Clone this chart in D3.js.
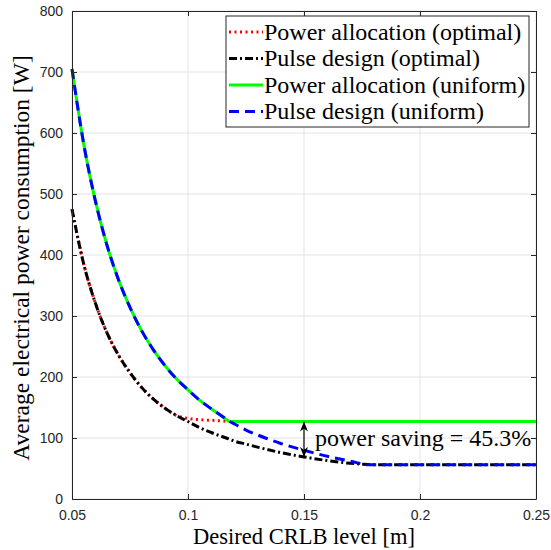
<!DOCTYPE html>
<html>
<head>
<meta charset="utf-8">
<script src="https://cdn.jsdelivr.net/npm/d3@7"></script>
<style>
  body { margin: 0; background: #fff; }
  .tick text { font-family: 'Liberation Sans', Arial, sans-serif; font-size: 14px; fill: #262626; }
</style>
</head>
<body>
<svg id="chart"></svg>
<script>
(function() {

  // desired CRLB level [m]
  const crlb = [0.05, 0.055, 0.06, 0.065, 0.07, 0.075, 0.08, 0.085, 0.09, 0.095,
    0.1, 0.105, 0.11, 0.115, 0.118, 0.12, 0.125, 0.13, 0.14, 0.15,
    0.16, 0.17, 0.178, 0.18, 0.19, 0.2, 0.21, 0.22, 0.23, 0.24, 0.25];

  // average electrical power consumption [W]
  const powerOptimal = [475, 386, 322, 273, 236, 207, 183, 164, 149, 137,
    132, 130, 129, 128, 127, 127, 127, 127, 127, 127,
    127, 127, 127, 127, 127, 127, 127, 127, 127, 127, 127];
  const pulseOptimal = [475, 386, 322, 273, 236, 207, 183, 164, 149, 137,
    127, 117, 109, 102, 98, 95, 90, 85, 76, 69,
    63, 58.5, 56.5, 56, 56, 56, 56, 56, 56, 56, 56];
  const powerUniform = [705, 583, 490, 417, 360, 314, 276, 245, 219, 197,
    179, 162, 148, 135, 127, 127, 127, 127, 127, 127,
    127, 127, 127, 127, 127, 127, 127, 127, 127, 127, 127];
  const pulseUniform = [705, 583, 490, 417, 360, 314, 276, 245, 219, 197,
    179, 162, 148, 135, 127, 123, 113, 105, 91, 80,
    70, 62, 56, 56, 56, 56, 56, 56, 56, 56, 56];

  const xTicks = [0.05, 0.1, 0.15, 0.2, 0.25];
  const yTicks = [0, 100, 200, 300, 400, 500, 600, 700, 800];

  const seriesNames = ['Power allocation (optimal)', 'Pulse design (optimal)',
    'Power allocation (uniform)', 'Pulse design (uniform)'];

  // annotation
  const savingAt = 0.15;
  const savingFrom = 127;
  const savingTo = 69;
  const savingLabel = 'power saving = 45.3%';

  const serifFont = '"Liberation Serif", "Times New Roman", serif';

  const width = 551;
  const height = 550;
  const margin = { left: 72, right: 15, top: 11, bottom: 51 };
  const innerWidth = width - margin.left - margin.right;
  const innerHeight = height - margin.top - margin.bottom;

  const series = [
    { name: seriesNames[0], values: powerOptimal, color: '#ff0000', dash: '2,3.5' },
    { name: seriesNames[1], values: pulseOptimal, color: '#000000', dash: '8,3,2,3' },
    { name: seriesNames[2], values: powerUniform, color: '#00ff00', dash: null },
    { name: seriesNames[3], values: pulseUniform, color: '#0000ff', dash: '10,6' }
  ];

  const svg = d3.select('#chart')
    .attr('width', width)
    .attr('height', height);

  const x = d3.scaleLinear().domain([0.05, 0.25]).range([0, innerWidth]);
  const y = d3.scaleLinear().domain([0, 800]).range([innerHeight, 0]);

  const g = svg.append('g')
    .attr('transform', 'translate(' + margin.left + ',' + margin.top + ')');

  // grid
  const grid = g.append('g').attr('class', 'grid');
  grid.selectAll('line.gx')
    .data(xTicks)
    .enter().append('line').attr('class', 'gx')
    .attr('x1', d => x(d)).attr('x2', d => x(d))
    .attr('y1', 0).attr('y2', innerHeight)
    .style('stroke', '#e3e3e3').style('stroke-width', 1);
  grid.selectAll('line.gy')
    .data(yTicks)
    .enter().append('line').attr('class', 'gy')
    .attr('x1', 0).attr('x2', innerWidth)
    .attr('y1', d => y(d)).attr('y2', d => y(d))
    .style('stroke', '#e3e3e3').style('stroke-width', 1);

  // curves
  const line = d3.line()
    .x(d => x(d[0]))
    .y(d => y(d[1]))
    .curve(d3.curveMonotoneX);

  series.forEach(function(s) {
    g.append('path')
      .datum(crlb.map((c, i) => [c, s.values[i]]))
      .attr('d', line)
      .style('fill', 'none')
      .style('stroke', s.color)
      .style('stroke-width', 3)
      .style('stroke-dasharray', s.dash);
  });

  // axes (box on, ticks inside)
  const xAxis = d3.axisBottom(x).tickValues(xTicks).tickSizeInner(-5).tickSizeOuter(0)
    .tickPadding(8).tickFormat(d3.format('~g'));
  const yAxis = d3.axisLeft(y).tickValues(yTicks).tickSizeInner(-5).tickSizeOuter(0)
    .tickPadding(9);

  g.append('g').attr('class', 'x axis')
    .attr('transform', 'translate(0,' + innerHeight + ')')
    .call(xAxis);
  g.append('g').attr('class', 'y axis')
    .call(yAxis);
  g.append('g').attr('class', 'x axis top')
    .call(d3.axisTop(x).tickValues(xTicks).tickSizeInner(-5).tickSizeOuter(0).tickFormat(''));
  g.append('g').attr('class', 'y axis right')
    .attr('transform', 'translate(' + innerWidth + ',0)')
    .call(d3.axisRight(y).tickValues(yTicks).tickSizeInner(-5).tickSizeOuter(0).tickFormat(''));

  svg.selectAll('.domain').style('stroke', '#262626');
  svg.selectAll('.tick line').style('stroke', '#262626');
  g.select('.x.axis').selectAll('.tick text').attr('dy', '0.9em');

  // annotation arrow
  const defs = svg.append('defs');
  ['start', 'end'].forEach(function(k) {
    defs.append('marker')
      .attr('id', 'head-' + k)
      .attr('viewBox', '0 0 10 10')
      .attr('refX', 10).attr('refY', 5)
      .attr('markerWidth', 10).attr('markerHeight', 10)
      .attr('markerUnits', 'userSpaceOnUse')
      .attr('orient', k === 'start' ? 'auto-start-reverse' : 'auto')
      .append('path')
      .attr('d', 'M0,1 L10,5 L0,9 L3,5 Z')
      .style('fill', '#000');
  });

  g.append('line')
    .attr('x1', x(savingAt)).attr('x2', x(savingAt))
    .attr('y1', y(savingFrom)).attr('y2', y(savingTo))
    .style('stroke', '#000').style('stroke-width', 1.2)
    .attr('marker-start', 'url(#head-start)')
    .attr('marker-end', 'url(#head-end)');

  g.append('text')
    .attr('x', x(savingAt) + 11)
    .attr('y', y((savingFrom + savingTo) / 2) + 7)
    .attr('font-family', serifFont)
    .attr('font-size', 24)
    .text(savingLabel);

  // legend
  const legend = svg.append('g').attr('class', 'legend')
    .attr('transform', 'translate(226,16)');
  legend.append('rect')
    .attr('width', 303).attr('height', 111)
    .style('fill', '#fff').style('stroke', '#262626').style('stroke-width', 1);
  const item = legend.selectAll('g.item')
    .data(series)
    .enter().append('g').attr('class', 'item')
    .attr('transform', (d, i) => 'translate(0,' + (16 + i * 26.5) + ')');
  item.append('line')
    .attr('x1', 3).attr('x2', 37)
    .style('stroke', d => d.color)
    .style('stroke-width', 3)
    .style('stroke-dasharray', d => d.dash);
  item.append('text')
    .attr('x', 38).attr('y', 7.5)
    .attr('font-family', serifFont)
    .attr('font-size', 24)
    .text(d => d.name);

  // axis labels
  svg.append('text')
    .attr('x', margin.left + innerWidth / 2)
    .attr('y', height - 6)
    .attr('text-anchor', 'middle')
    .attr('font-family', serifFont)
    .attr('font-size', 22.5)
    .text('Desired CRLB level [m]');
  svg.append('text')
    .attr('transform', 'translate(29,' + (margin.top + innerHeight / 2 + 3) + ') rotate(-90)')
    .attr('text-anchor', 'middle')
    .attr('font-family', serifFont)
    .attr('font-size', 23.5)
    .text('Average electrical power consumption [W]');

})();
</script>
</body>
</html>
